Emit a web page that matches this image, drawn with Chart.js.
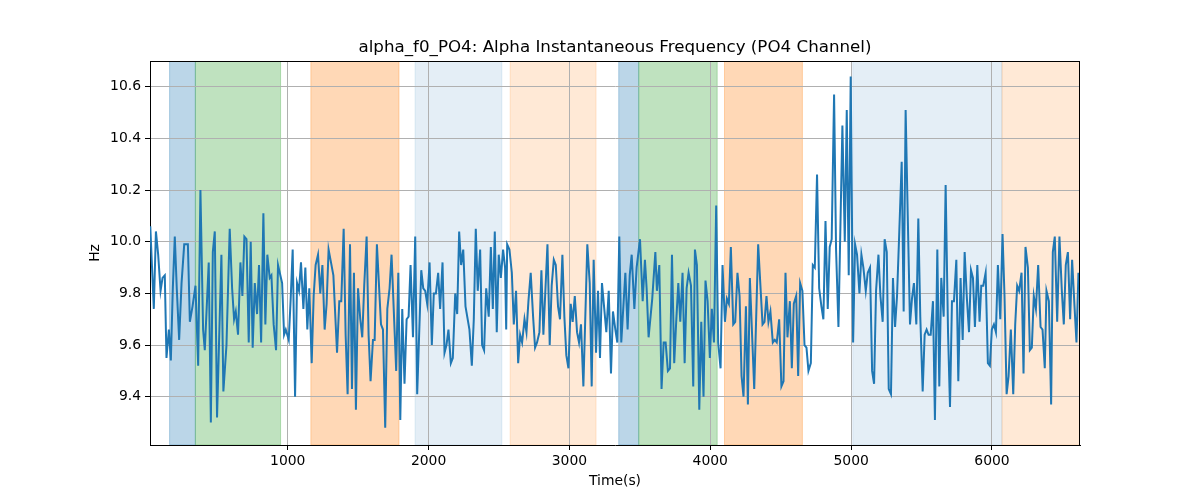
<!DOCTYPE html>
<html>
<head>
<meta charset="utf-8">
<title>alpha_f0_PO4</title>
<script src="https://cdn.jsdelivr.net/npm/chart.js@4.4.1/dist/chart.umd.min.js"></script>
<style>
  html, body { margin: 0; padding: 0; background: #fff; }
  canvas { display: block; }
</style>
</head>
<body>
<canvas id="mycanvas" width="1200" height="500"></canvas>
<script>
// time (s) of each sample
var times = [
  24, 49, 64, 80, 97, 111, 127, 139, 156, 170, 184, 198, 212, 229, 246, 265, 279, 291, 305, 324,
  345, 364, 380, 399, 411, 439, 454, 468, 482, 498, 529, 543, 565, 588, 605, 619, 631, 647, 664, 678,
  692, 707, 723, 737, 751, 766, 782, 796, 811, 827, 841, 855, 872,
  884, 900, 917, 931, 960, 974, 986, 1007, 1021, 1035, 1052, 1066, 1080, 1094, 1111, 1125, 1139, 1153, 1170, 1184,
  1198, 1215, 1231, 1246, 1262, 1276, 1290, 1307, 1324, 1350, 1366, 1380, 1397, 1411, 1425, 1442, 1456, 1470, 1484, 1499,
  1515, 1529, 1543, 1560, 1574, 1588, 1605, 1617, 1633, 1662, 1676, 1692, 1707, 1723,
  1737, 1770, 1785, 1799, 1813, 1829, 1844, 1858, 1872, 1889, 1905, 1919, 1948, 1962, 1976, 1990, 2007, 2023, 2037, 2052,
  2068, 2082, 2099, 2113, 2127, 2141, 2158, 2172, 2189, 2203, 2217, 2231, 2246, 2262, 2290, 2307, 2321, 2335, 2349, 2366,
  2380, 2394, 2409, 2427, 2442, 2456, 2470, 2484, 2498, 2513, 2529, 2543, 2551, 2558, 2574,
  2591, 2605, 2621, 2636, 2650, 2664, 2681, 2695, 2709, 2725, 2742, 2756, 2770, 2787, 2801, 2815, 2844, 2860, 2874, 2889,
  2903, 2919, 2933, 2950, 2964, 2978, 2993, 3009, 3023, 3038, 3054, 3068, 3082, 3099, 3127, 3144, 3158, 3172, 3189, 3203,
  3217, 3231, 3262, 3279, 3295, 3309, 3326, 3340, 3354, 3368, 3397, 3413,
  3428, 3442, 3461, 3477, 3501, 3520, 3536, 3548, 3562, 3588, 3610, 3621, 3638, 3654, 3669, 3683, 3699, 3714, 3728, 3744,
  3758, 3773, 3787, 3803, 3818, 3832, 3846, 3863, 3879, 3891, 3905, 3922, 3936, 3952, 3966, 3981, 3997, 4011, 4026, 4042,
  4056, 4073, 4087, 4104, 4118, 4132, 4146, 4163, 4177, 4193, 4208, 4222, 4236, 4253, 4267,
  4281, 4312, 4340, 4371, 4385, 4399, 4413, 4427, 4444, 4458, 4472, 4489, 4505, 4520, 4534, 4548, 4565, 4579, 4593, 4610,
  4624, 4638, 4654, 4669, 4683, 4697, 4714, 4728, 4742, 4758, 4773, 4789, 4803, 4818, 4834, 4848, 4862, 4879, 4893, 4910,
  4938, 4955, 4969, 4983, 4997, 5014, 5028, 5042, 5059, 5073, 5087, 5104, 5118,
  5134, 5149, 5163, 5177, 5194, 5208, 5224, 5238, 5253, 5267, 5283, 5297, 5312, 5326, 5342, 5359, 5373, 5387, 5402, 5418,
  5432, 5446, 5463, 5477, 5491, 5508, 5522, 5536, 5550, 5565, 5581, 5595, 5612, 5626, 5640, 5657, 5671, 5688, 5702, 5716,
  5730, 5747, 5761, 5777, 5792, 5806, 5822, 5837, 5851, 5865, 5879, 5896, 5912, 5924, 5938, 5955, 5971, 5985,
  5999, 6014, 6028, 6042, 6059, 6075, 6089, 6104, 6118, 6134, 6151, 6165, 6179, 6193, 6210, 6224, 6238, 6255, 6269, 6283,
  6297, 6312, 6328, 6345, 6359, 6375, 6387, 6404, 6420, 6432, 6446, 6463, 6479, 6496, 6510, 6524, 6539, 6555, 6569, 6586,
  6600, 6614
];

// instantaneous alpha frequency (Hz)
var hz = [
  10.06, 9.74, 10.04, 9.95, 9.81, 9.86, 9.87, 9.55, 9.66, 9.54, 9.82, 10.02, 9.82, 9.62, 9.84, 9.99, 9.99, 9.99, 9.69, 9.75,
  9.83, 9.52, 10.20, 9.66, 9.58, 9.92, 9.30, 9.96, 10.04, 9.32, 9.95, 9.42, 9.60, 10.05, 9.82, 9.70, 9.73, 9.64, 9.92, 9.79,
  10.02, 10.01, 9.61, 10.00, 9.59, 9.84, 9.72, 9.91, 9.61, 10.11, 9.68, 9.95, 9.86,
  9.87, 9.68, 9.58, 9.91, 9.84, 9.64, 9.66, 9.62, 9.78, 9.97, 9.40, 9.84, 9.81, 9.92, 9.74, 9.90, 9.66, 9.82, 9.53, 9.79,
  9.91, 9.95, 9.80, 9.91, 9.66, 9.76, 9.97, 9.92, 9.87, 9.57, 9.77, 9.77, 10.05, 9.64, 9.41, 9.99, 9.43, 9.88, 9.35, 9.82,
  9.70, 9.63, 9.83, 10.02, 9.64, 9.46, 9.62, 9.62, 9.99, 9.68, 9.66, 9.28, 9.74, 9.82,
  9.95, 9.50, 9.88, 9.31, 9.74, 9.45, 9.70, 9.71, 9.91, 9.63, 10.02, 9.41, 9.89, 9.82, 9.81, 9.76, 9.92, 9.60, 9.80, 9.80,
  9.88, 9.74, 9.92, 9.57, 9.60, 9.66, 9.53, 9.55, 9.80, 9.72, 10.04, 9.91, 9.97, 9.75, 9.66, 9.52, 9.70, 10.05, 9.81, 9.97,
  9.60, 9.58, 9.82, 9.71, 9.98, 9.74, 10.04, 9.65, 9.95, 9.86, 9.97, 9.90, 9.66, 9.99, 9.97,
  9.88, 9.68, 9.81, 9.53, 9.64, 9.61, 9.70, 9.65, 9.77, 9.88, 9.71, 9.59, 9.61, 9.65, 9.89, 9.64, 9.99, 9.60, 9.83, 9.93,
  9.91, 9.75, 9.70, 9.95, 9.71, 9.56, 9.51, 9.76, 9.69, 9.79, 9.65, 9.61, 9.68, 9.44, 9.99, 9.84, 9.44, 9.93, 9.57, 9.81,
  9.55, 9.84, 9.65, 9.81, 9.49, 9.73, 9.66, 9.61, 10.02, 9.61, 9.88, 9.66,
  9.87, 9.95, 9.74, 9.90, 10.01, 9.77, 9.93, 9.82, 9.63, 9.78, 9.96, 9.81, 9.91, 9.43, 9.61, 9.61, 9.50, 9.51, 9.95, 9.53,
  9.69, 9.84, 9.69, 9.88, 9.53, 9.82, 9.88, 9.83, 9.44, 9.97, 9.91, 9.35, 9.69, 9.40, 9.85, 9.77, 9.55, 9.74, 9.61, 10.14,
  9.61, 9.51, 9.91, 9.69, 9.78, 9.76, 9.98, 9.68, 9.69, 9.88, 9.79, 9.48, 9.40, 9.75, 9.37,
  9.86, 9.43, 9.99, 9.68, 9.69, 9.79, 9.69, 9.73, 9.61, 9.62, 9.61, 9.70, 9.44, 9.46, 9.88, 9.63, 9.77, 9.51, 9.76, 9.79,
  9.48, 9.84, 9.81, 9.60, 9.59, 9.50, 9.53, 9.91, 9.90, 10.26, 9.82, 9.75, 9.70, 10.08, 9.74, 9.98, 10.01, 10.57, 9.97, 9.67,
  10.45, 10.00, 10.51, 9.87, 10.64, 9.61, 9.99, 9.95, 9.80, 9.95, 9.90, 9.81, 9.88,
  9.90, 9.50, 9.45, 9.81, 9.95, 9.79, 9.69, 10.01, 9.96, 9.43, 9.41, 9.86, 9.67, 9.79, 10.04, 10.31, 9.73, 10.51, 10.10, 9.68,
  9.78, 9.84, 9.68, 10.09, 9.71, 9.42, 9.64, 9.66, 9.64, 9.64, 9.77, 9.31, 9.97, 9.44, 9.86, 9.71, 10.22, 9.65, 9.36, 9.77,
  9.77, 9.93, 9.46, 9.86, 9.62, 9.96, 9.78, 9.65, 9.89, 9.86, 9.67, 9.91, 9.69, 9.83, 9.83, 9.88, 9.53, 9.52,
  9.66, 9.68, 9.65, 9.91, 9.70, 10.03, 9.79, 9.41, 9.48, 9.66, 9.41, 9.68, 9.83, 9.81, 9.88, 9.49, 9.98, 9.90, 9.58, 9.59,
  9.79, 9.74, 9.91, 9.67, 9.66, 9.51, 9.81, 9.77, 9.37, 9.96, 10.02, 9.69, 10.02, 9.81, 9.68, 9.91, 9.96, 9.70, 9.93, 9.75,
  9.61, 9.88
];

// shaded periods (s)
var bandStart = [161, 344, 1164, 1904, 2579, 3350, 3492, 4101, 5012, 6071];
var bandEnd   = [344, 949, 1790, 2520, 3189, 3492, 4049, 4654, 6071, 6700];
var bandKind  = ['a', 'b', 'c', 'd', 'e', 'a', 'b', 'c', 'd', 'e'];

var xTicks = [1000, 2000, 3000, 4000, 5000, 6000];
var yTicks = [9.4, 9.6, 9.8, 10.0, 10.2, 10.4, 10.6];

var chartTitle = 'alpha_f0_PO4: Alpha Instantaneous Frequency (PO4 Channel)';

var bandColors = {
  a: 'rgba(31, 119, 180, 0.3)',
  b: 'rgba(44, 160, 44, 0.3)',
  c: 'rgba(255, 127, 14, 0.3)',
  d: 'rgba(31, 119, 180, 0.12)',
  e: 'rgba(255, 127, 14, 0.17)'
};

var points = [];
for (var i = 0; i < times.length; i++) {
  points.push({x: times[i], y: hz[i]});
}

// spans go under the grid, like axvspan in matplotlib
var bandsPlugin = {
  id: 'bands',
  beforeDraw: function(chart) {
    var ctx = chart.ctx;
    var area = chart.chartArea;
    var xs = chart.scales.x;
    ctx.save();
    ctx.beginPath();
    ctx.rect(area.left, area.top, area.right - area.left, area.bottom - area.top);
    ctx.clip();
    for (var i = 0; i < bandStart.length; i++) {
      var x0 = xs.getPixelForValue(bandStart[i]);
      var x1 = xs.getPixelForValue(bandEnd[i]);
      ctx.fillStyle = bandColors[bandKind[i]];
      ctx.fillRect(x0, area.top, x1 - x0, area.bottom - area.top);
      ctx.strokeStyle = bandColors[bandKind[i]];
      ctx.lineWidth = 1;
      ctx.strokeRect(x0, area.top, x1 - x0, area.bottom - area.top);
    }
    ctx.restore();
  },
  afterDraw: function(chart) {
    var ctx = chart.ctx;
    var area = chart.chartArea;
    ctx.save();
    // top and right spines
    ctx.strokeStyle = '#000';
    ctx.lineWidth = 1;
    ctx.beginPath();
    ctx.moveTo(area.left, Math.round(area.top) + 0.5);
    ctx.lineTo(area.right, Math.round(area.top) + 0.5);
    ctx.moveTo(Math.round(area.right) - 0.5, area.top);
    ctx.lineTo(Math.round(area.right) - 0.5, area.bottom);
    ctx.stroke();
    // title centred over the plot area, as matplotlib does
    ctx.fillStyle = '#000';
    ctx.font = "16.7px 'DejaVu Sans', sans-serif";
    ctx.textAlign = 'center';
    ctx.textBaseline = 'middle';
    ctx.fillText(chartTitle, (area.left + area.right) / 2, 47.5);
    ctx.restore();
  }
};

Chart.defaults.font.family = "'DejaVu Sans', sans-serif";
Chart.defaults.color = '#000';

var ctx = document.getElementById('mycanvas');

var LineGraph = new Chart(ctx, {
  type: 'line',
  data: {
    datasets: [
      {
        label: 'alpha_f0_PO4',
        data: points,
        borderColor: '#1f77b4',
        backgroundColor: '#1f77b4',
        borderWidth: 2,
        pointRadius: 0,
        tension: 0,
        fill: false
      }
    ]
  },
  options: {
    responsive: false,
    animation: false,
    devicePixelRatio: 1,
    layout: {
      padding: { left: 0, right: 120, top: 61, bottom: 0 }
    },
    scales: {
      x: {
        type: 'linear',
        min: 22,
        max: 6625,
        afterBuildTicks: function(scale) {
          scale.ticks = xTicks.map(function(v) { return {value: v}; });
        },
        afterFit: function(scale) { scale.height = 55; },
        ticks: {
          font: { size: 13.9 },
          color: '#000',
          padding: 3,
          maxRotation: 0,
          callback: function(value) { return String(value); }
        },
        grid: {
          color: '#b0b0b0',
          lineWidth: 1,
          tickColor: '#000',
          tickLength: 5
        },
        border: { color: '#000', width: 1 },
        title: {
          display: true,
          text: 'Time(s)',
          font: { size: 13.9 },
          color: '#000',
          padding: { top: 0, bottom: 10 }
        }
      },
      y: {
        min: 9.213,
        max: 10.70,
        afterBuildTicks: function(scale) {
          scale.ticks = yTicks.map(function(v) { return {value: v}; });
        },
        afterFit: function(scale) { scale.width = 150; },
        ticks: {
          font: { size: 13.9 },
          color: '#000',
          padding: 4,
          callback: function(value) { return Number(value).toFixed(1); }
        },
        grid: {
          color: '#b0b0b0',
          lineWidth: 1,
          tickColor: '#000',
          tickLength: 5
        },
        border: { color: '#000', width: 1 },
        title: {
          display: true,
          text: 'Hz',
          font: { size: 13.9 },
          color: '#000',
          padding: { top: 87, bottom: 0 }
        }
      }
    },
    plugins: {
      title: { display: false },
      legend: { display: false },
      tooltip: { enabled: false }
    }
  },
  plugins: [bandsPlugin]
});
</script>
</body>
</html>
